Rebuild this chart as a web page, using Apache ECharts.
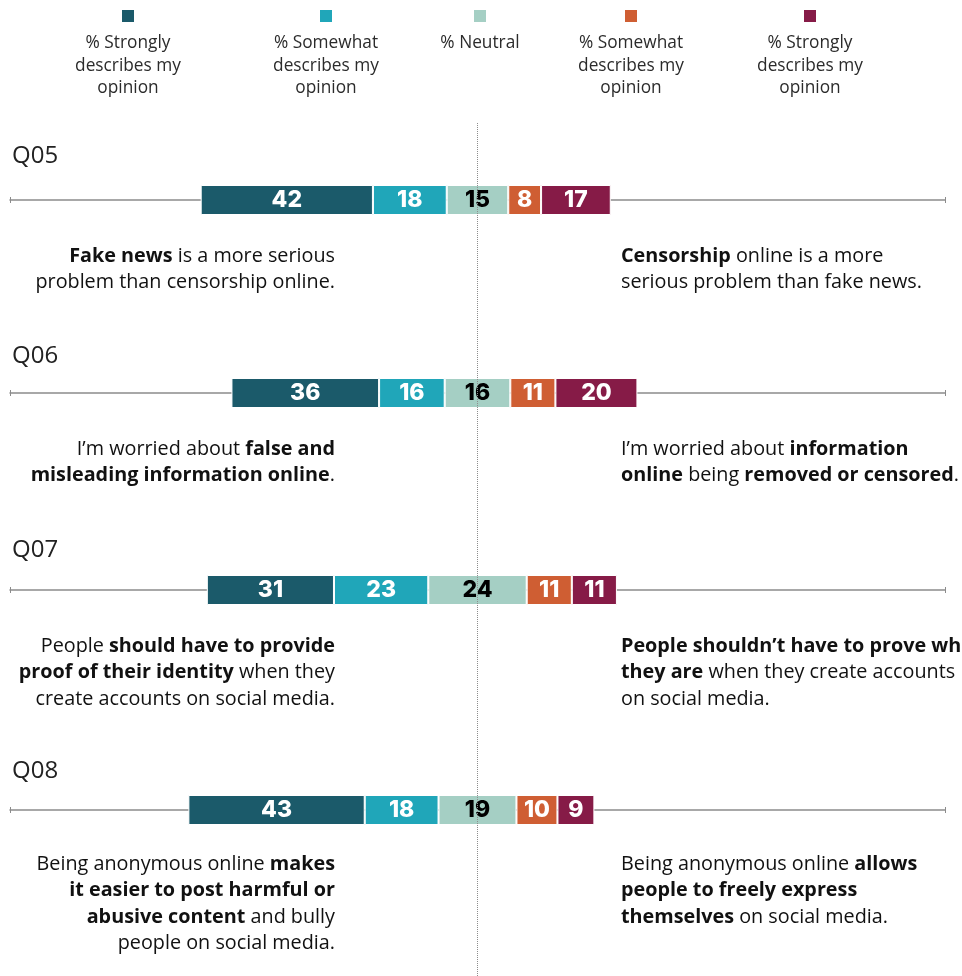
<!DOCTYPE html>
<html>
<head>
<meta charset="utf-8">
<script src="https://cdn.jsdelivr.net/npm/echarts@6/dist/echarts.min.js"></script>
<style>
  html, body { margin: 0; padding: 0; background: #fff; }
  #main { width: 962px; height: 976px; }
</style>
</head>
<body>
<div id="main"></div>
<script>
// data
var questions = ['Q05', 'Q06', 'Q07', 'Q08'];
var strongLeft = [42, 36, 31, 43];
var somewhatLeft = [18, 16, 23, 18];
var neutral = [15, 16, 24, 19];
var somewhatRight = [8, 11, 11, 10];
var strongRight = [17, 20, 11, 9];

var legendNames = [
  '% Strongly\ndescribes my\nopinion',
  '% Somewhat\ndescribes my\nopinion',
  '% Neutral',
  '% Somewhat\ndescribes my\nopinion',
  '% Strongly\ndescribes my\nopinion'
];
var leftText = [
  '{b|Fake news} is a more serious\nproblem than censorship online.',
  'I\u2019m worried about {b|false and}\n{b|misleading information online}.',
  'People {b|should have to provide}\n{b|proof of their identity} when they\ncreate accounts on social media.',
  'Being anonymous online {b|makes}\n{b|it easier to post harmful or}\n{b|abusive content} and bully\npeople on social media.'
];
var rightText = [
  '{b|Censorship} online is a more\nserious problem than fake news.',
  'I\u2019m worried about {b|information}\n{b|online} being {b|removed or censored}.',
  '{b|People shouldn\u2019t have to prove who}\n{b|they are} when they create accounts\non social media.',
  'Being anonymous online {b|allows}\n{b|people to freely express}\n{b|themselves} on social media.'
];

var colors = ['#1b5a6a', '#20a6b9', '#a5cfc4', '#cf5e33', '#861b47'];

// layout
var AXIS_MAX = 228, CENTER = 114;
var rowCenters = [200, 393, 590, 810];
var qTitleY = [144, 344, 538, 759];
var textTop = [243, 436, 633, 851];
var legendX = [128, 326, 480, 631, 810];
var BAR_H = 30;
var TXT_SIZE = 19.8;
var txtFont = '"Open Sans", Roboto, sans-serif';
var numFont = 'Inter, Roboto, sans-serif';

var myChart = echarts.init(document.getElementById('main'));

var grids = [], xAxes = [], yAxes = [], series = [], titles = [], graphics = [];

function statement(text, x, y, align) {
  return {
    type: 'text', x: x, y: y,
    style: {
      text: text, align: align, verticalAlign: 'top',
      fontFamily: txtFont, fontSize: TXT_SIZE, fontWeight: 'normal', lineHeight: 26.5, fill: '#111',
      rich: {
        b: { fontFamily: txtFont, fontSize: TXT_SIZE, fontWeight: 'bold', lineHeight: 26.5, fill: '#111', align: align }
      }
    }
  };
}

questions.forEach(function (q, i) {
  grids.push({ left: 10, right: 17, top: rowCenters[i] - BAR_H / 2, height: BAR_H });
  // two axes per grid: bottom one draws the line and lower half of the end ticks,
  // the top one draws the upper half of the ticks
  [false, true].forEach(function (second) {
    xAxes.push({
      gridIndex: i, type: 'value', min: 0, max: AXIS_MAX, interval: AXIS_MAX,
      position: second ? 'top' : 'bottom',
      offset: -BAR_H / 2,
      axisLine: { show: !second, lineStyle: { color: '#8c8c8c', width: 1.5 } },
      axisTick: { show: true, length: 3, lineStyle: { color: '#8c8c8c', width: 1 } },
      axisLabel: { show: false },
      splitLine: { show: false }
    });
  });
  yAxes.push({ gridIndex: i, type: 'category', data: [q], show: false });

  var offset = CENTER - (strongLeft[i] + somewhatLeft[i] + neutral[i] / 2);
  var segs = [strongLeft[i], somewhatLeft[i], neutral[i], somewhatRight[i], strongRight[i]];

  series.push({
    type: 'bar', xAxisIndex: i * 2, yAxisIndex: i, stack: 'row' + i,
    barWidth: BAR_H, silent: true,
    itemStyle: { color: 'transparent' },
    data: [offset]
  });
  segs.forEach(function (v, k) {
    series.push({
      type: 'bar', xAxisIndex: i * 2, yAxisIndex: i, stack: 'row' + i,
      barWidth: BAR_H,
      itemStyle: { color: colors[k], borderColor: '#fff', borderWidth: 1 },
      label: {
        show: true, position: 'inside',
        color: k === 2 ? '#000' : '#fff',
        fontFamily: numFont, fontWeight: 800, fontSize: 23
      },
      data: [v]
    });
  });

  titles.push({
    text: q, left: 12, top: qTitleY[i], padding: 0,
    textStyle: { fontFamily: txtFont, fontWeight: 'normal', fontSize: 24, color: '#222' }
  });
  graphics.push(statement(leftText[i], 335, textTop[i], 'right'));
  graphics.push(statement(rightText[i], 621, textTop[i], 'left'));
});

// overlay grid for the dotted centre line
grids.push({ left: 10, right: 17, top: 122, bottom: 0 });
xAxes.push({ gridIndex: 4, type: 'value', min: 0, max: AXIS_MAX, show: false });
yAxes.push({ gridIndex: 4, type: 'value', min: 0, max: 1, show: false });
series.push({
  type: 'scatter', xAxisIndex: xAxes.length - 1, yAxisIndex: 4, z: 1,
  data: [],
  markLine: {
    silent: true, symbol: 'none', label: { show: false },
    lineStyle: { type: 'dotted', color: '#8c8c8c', width: 1 },
    data: [{ xAxis: CENTER }]
  }
});

// legend: square above a centred, wrapped label
legendNames.forEach(function (name, k) {
  graphics.push({
    type: 'rect', shape: { x: legendX[k] - 6, y: 10, width: 12, height: 12 },
    style: { fill: colors[k] }
  });
  graphics.push({
    type: 'text', x: legendX[k], y: 32,
    style: {
      text: name, align: 'center', verticalAlign: 'top',
      fontFamily: txtFont, fontSize: 17.3, lineHeight: 22.5, fill: '#2b2b2b'
    }
  });
});

var option = {
  backgroundColor: '#fff',
  animation: false,
  title: titles,
  grid: grids,
  xAxis: xAxes,
  yAxis: yAxes,
  series: series,
  graphic: graphics
};
myChart.setOption(option);
</script>
</body>
</html>
